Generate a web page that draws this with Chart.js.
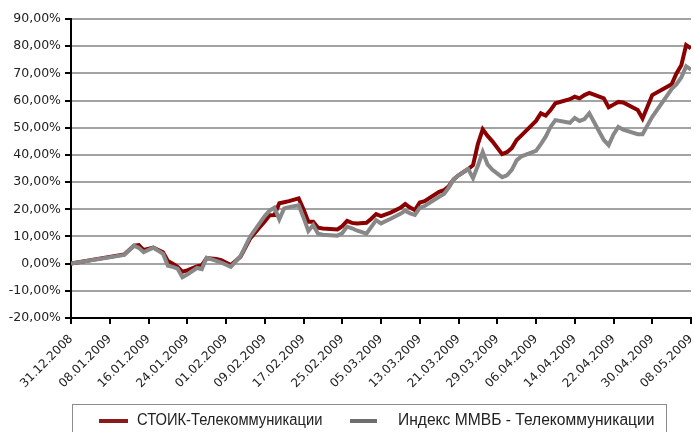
<!DOCTYPE html>
<html>
<head>
<meta charset="utf-8">
<script src="https://cdn.jsdelivr.net/npm/chart.js@4"></script>
<style>
  html, body { margin: 0; padding: 0; background: #fff; }
  #wrap { position: relative; width: 694px; height: 432px; overflow: hidden; }
  #legend {
    position: absolute; left: 72px; top: 404px; width: 595px; height: 40px;
    border: 1px solid #8c8c8c; box-sizing: border-box;
    font-family: "Liberation Sans", sans-serif; font-size: 16px; color: #222;
  }
  .item { position: absolute; top: 6px; white-space: nowrap; transform-origin: left center; }
  .mark { position: absolute; height: 4px; top: 14px; }
</style>
</head>
<body>
<div id="wrap">
  <canvas id="chart" width="694" height="432"></canvas>
  <div id="legend">
    <div class="mark" style="left:26px;width:29px;background:#8b1a1a"></div>
    <div class="item" style="left:64px;transform:scaleX(0.92)">СТОИК-Телекоммуникации</div>
    <div class="mark" style="left:277px;width:27px;background:#6e6e6e"></div>
    <div class="item" style="left:325px;transform:scaleX(0.975)">Индекс ММВБ - Телекоммуникации</div>
  </div>
</div>
<script>
// x = days since 31.12.2008
const days = [0, 11, 13, 14, 15, 17, 19, 20, 21, 22, 23, 24, 26, 27, 28, 30, 31, 33, 35, 37, 39, 40, 41, 42, 43, 44, 45, 47, 48, 49, 50, 51, 52, 55, 56, 57, 58, 59, 61, 62, 63, 64, 66, 68, 69, 70, 71, 72, 73, 76, 77, 78, 79, 80, 82, 83, 84, 85, 86, 87, 89, 90, 91, 92, 93, 96, 97, 98, 99, 100, 103, 104, 105, 106, 107, 110, 111, 112, 113, 114, 117, 118, 120, 124, 125, 126, 127, 128];
const stoik = [0, 3.4, 6.6, 6.8, 5.0, 5.9, 4.2, 1.0, 0, -1.2, -3.0, -2.5, -1.0, -0.6, 2.0, 1.7, 1.3, -0.5, 2.5, 9.3, 13.5, 15.5, 17.8, 17.9, 22.2, 22.6, 23.0, 24.0, 20.0, 15.4, 15.4, 13.2, 12.9, 12.6, 13.8, 15.7, 15.0, 14.8, 15.0, 16.5, 18.2, 17.5, 18.8, 20.5, 21.9, 20.6, 19.7, 22.5, 23.0, 26.4, 27.0, 28.5, 31.0, 32.5, 34.8, 36.2, 44.0, 49.4, 47.0, 45.0, 40.3, 41.0, 42.5, 45.5, 47.2, 52.5, 55.3, 54.5, 56.5, 59.0, 60.5, 61.4, 60.8, 62.0, 62.8, 60.8, 57.5, 58.5, 59.5, 59.3, 56.5, 53.4, 62.0, 66.0, 70.0, 73.0, 80.4, 79.2];
const micex = [0, 3.2, 6.6, 5.8, 4.2, 5.9, 3.6, -0.8, -1.2, -1.8, -5.0, -4.0, -1.6, -2.0, 2.2, 1.0, 0.4, -1.2, 2.8, 10.0, 15.0, 17.5, 19.5, 20.6, 16.3, 20.3, 20.8, 21.5, 17.0, 12.0, 14.2, 11.0, 10.6, 10.3, 11.2, 13.6, 13.0, 12.2, 11.0, 13.5, 16.0, 14.8, 16.5, 18.3, 19.5, 18.5, 17.9, 20.5, 21.2, 24.6, 25.6, 28.0, 31.0, 32.5, 34.8, 31.4, 36.0, 41.1, 36.5, 34.5, 31.8, 32.5, 34.5, 38.0, 39.5, 41.5, 44.0, 46.7, 50.3, 52.8, 51.8, 53.6, 52.5, 53.2, 55.3, 45.5, 43.6, 47.5, 50.3, 49.3, 47.6, 47.6, 54.0, 64.2, 66.0, 68.5, 72.6, 71.4];
const dateLabels = ['31.12.2008', '08.01.2009', '16.01.2009', '24.01.2009', '01.02.2009', '09.02.2009', '17.02.2009', '25.02.2009', '05.03.2009', '13.03.2009', '21.03.2009', '29.03.2009', '06.04.2009', '14.04.2009', '22.04.2009', '30.04.2009', '08.05.2009'];

const toPoints = vals => days.map((d, i) => ({ x: d, y: vals[i] }));

new Chart(document.getElementById('chart'), {
    type: 'line',
    data: {
        datasets: [{
            label: 'СТОИК-Телекоммуникации',
            data: toPoints(stoik),
            borderColor: '#8b0000',
            borderWidth: 4,
            pointRadius: 0,
            order: 1,
        }, {
            label: 'Индекс ММВБ - Телекоммуникации',
            data: toPoints(micex),
            borderColor: '#888888',
            borderWidth: 4,
            pointRadius: 0,
            order: 0,
        }],
    },
    options: {
        responsive: false,
        animation: false,
        layout: { padding: { top: 19, right: 3, left: 0, bottom: 0 } },
        plugins: { legend: { display: false }, tooltip: { enabled: false } },
        scales: {
            x: {
                type: 'linear',
                min: 0,
                max: 128,
                afterFit: s => { s.height = 114; s.paddingLeft = 0; s.paddingRight = 0; },
                border: { color: '#000', width: 2 },
                grid: { drawOnChartArea: false, tickLength: 6, tickColor: '#000', lineWidth: 2 },
                ticks: {
                    stepSize: 8,
                    autoSkip: false,
                    maxRotation: 45,
                    minRotation: 45,
                    padding: 8,
                    color: '#222',
                    font: { family: 'DejaVu Sans', size: 12 },
                    callback: v => dateLabels[Math.round(v / 8)],
                },
            },
            y: {
                min: -20,
                max: 90,
                afterFit: s => { s.width = 71; },
                border: { color: '#000', width: 2 },
                grid: { color: '#a3a3a3', lineWidth: 2, tickLength: 6, tickColor: '#000' },
                ticks: {
                    stepSize: 10,
                    padding: 4,
                    color: '#222',
                    font: { family: 'DejaVu Sans', size: 12.5 },
                    callback: v => v.toFixed(2).replace('.', ',') + '%',
                },
            },
        },
    },
});
</script>
</body>
</html>
